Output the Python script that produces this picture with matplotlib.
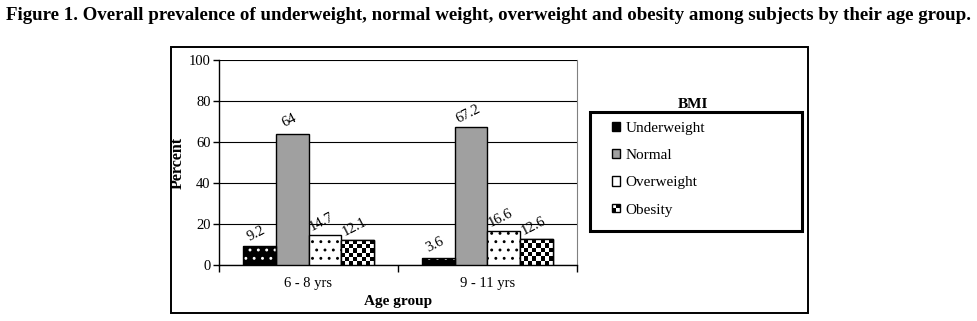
import matplotlib
matplotlib.use("Agg")
import matplotlib.pyplot as plt
import numpy as np
from matplotlib.patches import Rectangle, Patch
from matplotlib.legend_handler import HandlerBase

# ── Data ─────────────────────────────────────────────────────────────────────
age_groups = ["6 - 8 yrs", "9 - 11 yrs"]
bmi_classes = ["Underweight", "Normal", "Overweight", "Obesity"]
underweight = [9.2, 3.6]
normal = [64, 67.2]
overweight = [14.7, 16.6]
obesity = [12.1, 12.6]
y_ticks = [0, 20, 40, 60, 80, 100]

TITLE = ("Figure 1. Overall prevalence of underweight, normal weight, "
         "overweight and obesity among subjects by their age group.")

plt.rcParams["font.family"] = ["Liberation Serif", "DejaVu Serif"]
plt.rcParams["hatch.linewidth"] = 0.9

W, H = 978, 321
fig = plt.figure(figsize=(W / 100, H / 100), dpi=100)

def fx(px):
    return px / W

def fy(py):
    return 1 - py / H

# title
fig.text(fx(489), fy(16), TITLE, ha="center", va="center",
         fontsize=13.6, fontweight="bold")

# outer chart frame
fig.patches.append(Rectangle((fx(171), fy(313)), fx(808) - fx(171),
                             fy(47) - fy(313), transform=fig.transFigure,
                             fill=False, edgecolor="black", linewidth=1.4))

# ── Plot area ────────────────────────────────────────────────────────────────
ax = fig.add_axes([fx(219), fy(265), fx(577) - fx(219), fy(60) - fy(265)])
ax.set_xlim(-0.5, 1.5)
ax.set_ylim(0, 100)

x = np.arange(len(age_groups))
bw = 0.184
offsets = np.array([-1.5, -0.5, 0.5, 1.5]) * bw

# underweight: black with white dots
ax.bar(x + offsets[0], underweight, bw, facecolor="black", edgecolor="white",
       hatch="..", linewidth=0, zorder=3)
ax.bar(x + offsets[0], underweight, bw, fill=False, edgecolor="black",
       linewidth=1, zorder=4)
# normal: grey
ax.bar(x + offsets[1], normal, bw, facecolor="#a0a0a0", edgecolor="black",
       linewidth=1, zorder=3)
# overweight: white with black dots
ax.bar(x + offsets[2], overweight, bw, facecolor="white", edgecolor="black",
       hatch="..", linewidth=1, zorder=3)
# obesity: checkerboard
ob_bars = ax.bar(x + offsets[3], obesity, bw, facecolor="white",
                 edgecolor="black", linewidth=1, zorder=3)

px_x = (fx(577) - fx(219)) * W / 2.0     # pixels per x unit
px_y = (fy(60) - fy(265)) * H / 100.0    # pixels per y unit
cell = 4.0
for b in ob_bars:
    x0, w, h = b.get_x(), b.get_width(), b.get_height()
    nx = max(1, int(round(w * px_x / cell)))
    ny = max(1, int(round(h * px_y / cell)))
    checker = (np.add.outer(np.arange(ny), np.arange(nx)) % 2).astype(float)
    im = ax.imshow(checker, extent=(x0, x0 + w, 0, h), aspect="auto",
                   cmap="gray", interpolation="nearest", origin="lower",
                   zorder=3.5)
    im.set_clip_path(b)
    ax.add_patch(Rectangle((x0, 0), w, h, fill=False, edgecolor="black",
                           linewidth=1, zorder=4))
ax.set_xlim(-0.5, 1.5)
ax.set_ylim(0, 100)

# value labels
for k, series in enumerate((underweight, normal, overweight, obesity)):
    for i, v in enumerate(series):
        ax.annotate(f"{v:g}", (x[i] + offsets[k], v), xytext=(0, 5),
                    textcoords="offset points", ha="center", va="bottom",
                    rotation=27, rotation_mode="anchor", fontsize=10.5,
                    color="black", zorder=5)

# grid & spines
ax.set_yticks(y_ticks)
ax.yaxis.grid(True, color="black", linewidth=0.8, zorder=1)
ax.set_axisbelow(True)
ax.spines["top"].set_visible(False)
ax.spines["right"].set_color("#808080")
ax.spines["right"].set_linewidth(0.8)
ax.spines["left"].set_linewidth(1)
ax.spines["bottom"].set_linewidth(1)

ax.set_xticks(x)
ax.set_xticklabels(age_groups, fontsize=10.5)
ax.set_xticks([-0.5, 0.5, 1.5], minor=True)
ax.tick_params(axis="x", which="major", length=0, pad=9)
ax.tick_params(axis="x", which="minor", length=5, direction="out", width=1)
ax.tick_params(axis="y", length=4, width=1, labelsize=10.5, pad=2)

ax.set_ylabel("Percent", fontsize=11.5, fontweight="bold", labelpad=2)
ax.set_xlabel("Age group", fontsize=11, fontweight="bold", labelpad=3)

# ── Legend ───────────────────────────────────────────────────────────────────
class CheckerHandler(HandlerBase):
    def create_artists(self, legend, orig_handle, xdescent, ydescent,
                       width, height, fontsize, trans):
        s = min(width, height)
        x0, y0 = -xdescent, -ydescent + (height - s) / 2
        half = s / 2
        arts = []
        for r in range(2):
            for c in range(2):
                col = "black" if (r + c) % 2 == 0 else "white"
                arts.append(Rectangle((x0 + c * half, y0 + r * half), half,
                                      half, facecolor=col, edgecolor="none",
                                      transform=trans))
        arts.append(Rectangle((x0, y0), s, s, fill=False, edgecolor="black",
                              linewidth=1, transform=trans))
        return arts


fig.text(fx(693), fy(104), "BMI", ha="center", va="center",
         fontsize=11, fontweight="bold")
fig.patches.append(Rectangle((fx(590), fy(231)), fx(802) - fx(590),
                             fy(112) - fy(231), transform=fig.transFigure,
                             fill=False, edgecolor="black", linewidth=2.2))
checker_handle = Patch(facecolor="black")
handles = [
    Patch(facecolor="black", edgecolor="black", linewidth=1),
    Patch(facecolor="#a0a0a0", edgecolor="black", linewidth=1),
    Patch(facecolor="white", edgecolor="black", linewidth=1),
    checker_handle,
]
fig.legend(handles, bmi_classes, loc="upper left",
           bbox_to_anchor=(fx(612), fy(122)), frameon=False, fontsize=11,
           borderpad=0, borderaxespad=0, labelspacing=0.93,
           handlelength=0.55, handleheight=0.55, handletextpad=0.35,
           handler_map={checker_handle: CheckerHandler()})

fig.savefig("out.png", dpi=100)
